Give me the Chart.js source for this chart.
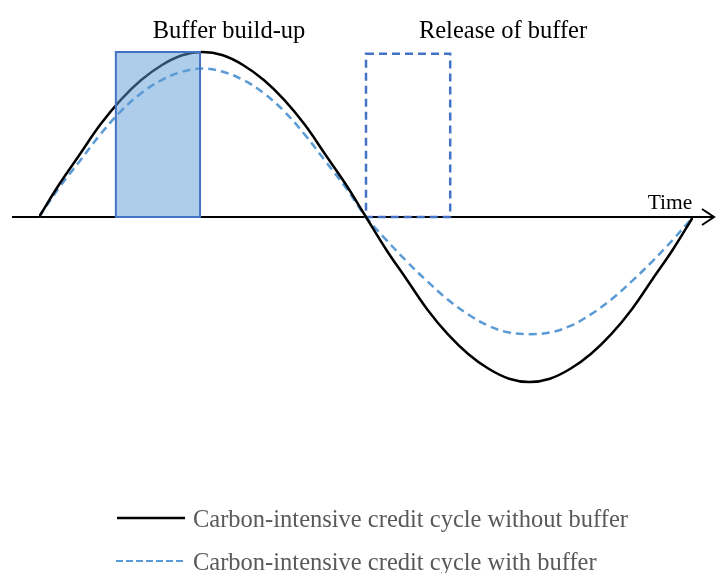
<!DOCTYPE html>
<html>
<head>
<meta charset="utf-8">
<script src="https://cdn.jsdelivr.net/npm/chart.js@4.4.0/dist/chart.umd.min.js"></script>
<style>
  html, body { margin: 0; padding: 0; background: #fff; }
</style>
</head>
<body>
<canvas id="cycle" width="716" height="573"></canvas>
<script>
// values (time in arbitrary units, 0 = start of cycle)
const time = [0, 0.5, 1, 1.5, 2, 2.5, 3, 3.5, 4, 4.5, 5, 5.5, 6, 6.5, 7, 7.5, 8,
  8.5, 9, 9.5, 10, 10.5, 11, 11.5, 12, 12.5, 13, 13.5, 14, 14.5, 15, 15.5, 16];
const withoutBuffer = [0, 0.20, 0.38, 0.56, 0.71, 0.83, 0.92, 0.98, 1.00, 0.98, 0.92, 0.83, 0.71, 0.56, 0.38, 0.20, 0,
  -0.20, -0.38, -0.56, -0.71, -0.83, -0.92, -0.98, -1.00, -0.98, -0.92, -0.83, -0.71, -0.56, -0.38, -0.20, 0];
const withBuffer = [0, 0.18, 0.34, 0.50, 0.64, 0.75, 0.83, 0.88, 0.90, 0.88, 0.83, 0.75, 0.64, 0.50, 0.34, 0.18, 0,
  -0.14, -0.27, -0.39, -0.50, -0.59, -0.66, -0.70, -0.71, -0.70, -0.66, -0.59, -0.50, -0.39, -0.27, -0.14, 0];
const buildUpSpan = [1.88, 3.94];   // time span of the buffer build-up box
const releaseSpan = [8.0, 10.06];   // time span of the release box
const legendLabels = [
  "Carbon-intensive credit cycle without buffer",
  "Carbon-intensive credit cycle with buffer",
];

const SERIF = '"Liberation Serif", "Times New Roman", serif';
const BLUE_LINE = "#5b9bd5";
const BOX_BLUE = "#4472c4";

const pts = (vals) => vals.map((v, i) => ({ x: time[i], y: v }));

const decorations = {
  id: "decorations",
  beforeDatasetsDraw(chart) {
    const { ctx, scales: { x, y } } = chart;
    const y0 = y.getPixelForValue(0);
    ctx.save();
    // time axis with open arrow
    ctx.strokeStyle = "#000";
    ctx.lineWidth = 2;
    ctx.beginPath();
    ctx.moveTo(12, y0);
    ctx.lineTo(713, y0);
    ctx.stroke();
    ctx.beginPath();
    ctx.moveTo(702, y0 - 8);
    ctx.lineTo(714, y0);
    ctx.lineTo(702, y0 + 8);
    ctx.stroke();
    // release of buffer box (dashed)
    ctx.strokeStyle = BOX_BLUE;
    ctx.lineWidth = 2.5;
    ctx.setLineDash([8, 5]);
    const rx1 = x.getPixelForValue(releaseSpan[0]);
    const rx2 = x.getPixelForValue(releaseSpan[1]);
    const ry = y.getPixelForValue(0.99);
    ctx.strokeRect(rx1, ry, rx2 - rx1, y0 - ry);
    ctx.restore();
  },
  afterDatasetsDraw(chart) {
    const { ctx, scales: { x, y } } = chart;
    const y0 = y.getPixelForValue(0);
    ctx.save();
    // buffer build-up box (filled, sits over the curves)
    const bx1 = x.getPixelForValue(buildUpSpan[0]);
    const bx2 = x.getPixelForValue(buildUpSpan[1]);
    const by = y.getPixelForValue(1.0);
    ctx.fillStyle = "rgba(91, 155, 213, 0.5)";
    ctx.fillRect(bx1, by, bx2 - bx1, y0 - by);
    ctx.strokeStyle = BOX_BLUE;
    ctx.lineWidth = 2;
    ctx.strokeRect(bx1, by, bx2 - bx1, y0 - by);

    // labels
    ctx.fillStyle = "#000";
    ctx.textBaseline = "alphabetic";
    ctx.textAlign = "center";
    ctx.font = "24.5px " + SERIF;
    ctx.fillText("Buffer build-up", 229, 38);
    ctx.fillText("Release of buffer", 503, 38);
    ctx.font = "21.5px " + SERIF;
    ctx.fillText("Time", 670, 209);

    // legend
    const rows = [518, 561];
    ctx.lineWidth = 2.5;
    ctx.strokeStyle = "#000";
    ctx.beginPath();
    ctx.moveTo(117, rows[0]);
    ctx.lineTo(185, rows[0]);
    ctx.stroke();
    ctx.lineWidth = 2;
    ctx.strokeStyle = BLUE_LINE;
    ctx.setLineDash([7, 3]);
    ctx.beginPath();
    ctx.moveTo(116, rows[1]);
    ctx.lineTo(185, rows[1]);
    ctx.stroke();
    ctx.setLineDash([]);
    ctx.textAlign = "left";
    ctx.font = "24.5px " + SERIF;
    ctx.fillStyle = "#595959";
    legendLabels.forEach((t, i) => ctx.fillText(t, 193, rows[i] + 9));
    ctx.restore();
  },
};

new Chart(document.getElementById("cycle"), {
  type: "line",
  data: {
    datasets: [
      {
        label: legendLabels[0],
        data: pts(withoutBuffer),
        borderColor: "#000",
        borderWidth: 2.5,
        pointRadius: 0,
        tension: 0.4,
      },
      {
        label: legendLabels[1],
        data: pts(withBuffer),
        borderColor: BLUE_LINE,
        borderWidth: 2.5,
        borderDash: [8, 5],
        pointRadius: 0,
        tension: 0.4,
      },
    ],
  },
  options: {
    responsive: false,
    animation: false,
    layout: {
      padding: { left: 39, right: 23, top: 10.75, bottom: 149.75 },
    },
    plugins: {
      legend: { display: false },
      tooltip: { enabled: false },
    },
    scales: {
      x: { type: "linear", min: 0, max: 16, display: false },
      y: { min: -1.25, max: 1.25, display: false },
    },
  },
  plugins: [decorations],
});
</script>
</body>
</html>
